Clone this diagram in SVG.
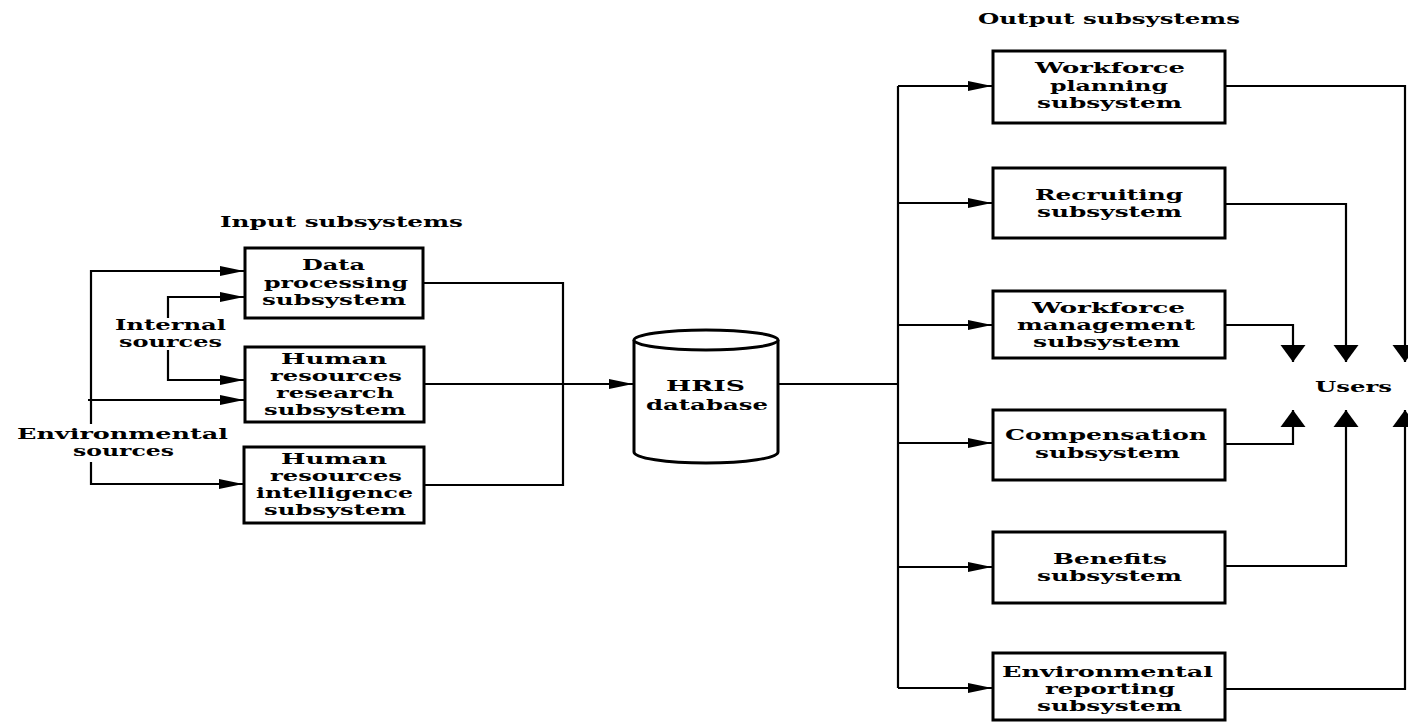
<svg xmlns="http://www.w3.org/2000/svg" width="1408" height="722" viewBox="0 0 1408 722">
<style>
.box{fill:#fff;stroke:#000;stroke-width:3}
.ln{fill:none;stroke:#000;stroke-width:2.2}
text{font-family:"DejaVu Serif","Liberation Serif",serif;font-weight:bold;font-size:14px;fill:#000}
</style>
<defs>
<marker id="ah" markerUnits="userSpaceOnUse" markerWidth="26" markerHeight="12" viewBox="-24 -6 26 12" refX="0" refY="0" orient="auto">
<path d="M0,0 L-24,-5 L-24,5 Z" fill="#000"/>
</marker>
<marker id="big" markerUnits="userSpaceOnUse" markerWidth="20" markerHeight="28" viewBox="-18 -14 20 28" refX="0" refY="0" orient="auto">
<path d="M0,0 L-17,-12.5 L-17,12.5 Z" fill="#000"/>
</marker>
</defs>
<rect width="1408" height="722" fill="#fff"/>
<g id="titles">
<text x="220" y="227" textLength="243" lengthAdjust="spacingAndGlyphs">Input subsystems</text>
<text x="978" y="24" textLength="262" lengthAdjust="spacingAndGlyphs">Output subsystems</text>
</g>
<g id="connectors">
<path class="ln" d="M91,424 V271 H244" marker-end="url(#ah)"/>
<path class="ln" d="M88,400 H244" marker-end="url(#ah)"/>
<path class="ln" d="M91,462 V484 H243" marker-end="url(#ah)"/>
<path class="ln" d="M168,318 V297 H244" marker-end="url(#ah)"/>
<path class="ln" d="M168,350 V380 H244" marker-end="url(#ah)"/>
<path class="ln" d="M423,283 H563 V485 H424"/>
<path class="ln" d="M424,384 H633" marker-end="url(#ah)"/>
<path class="ln" d="M778,384 H898"/>
<path class="ln" d="M898,86 V688"/>
<path class="ln" d="M898,86 H992" marker-end="url(#ah)"/>
<path class="ln" d="M898,203 H992" marker-end="url(#ah)"/>
<path class="ln" d="M898,325 H992" marker-end="url(#ah)"/>
<path class="ln" d="M898,443 H992" marker-end="url(#ah)"/>
<path class="ln" d="M898,567 H992" marker-end="url(#ah)"/>
<path class="ln" d="M898,688 H992" marker-end="url(#ah)"/>
<path class="ln" d="M1225,86 H1405 V362" marker-end="url(#big)"/>
<path class="ln" d="M1225,204 H1346 V362" marker-end="url(#big)"/>
<path class="ln" d="M1225,325 H1293 V362" marker-end="url(#big)"/>
<path class="ln" d="M1225,444 H1293 V410" marker-end="url(#big)"/>
<path class="ln" d="M1225,566 H1346 V410" marker-end="url(#big)"/>
<path class="ln" d="M1225,689 H1405 V410" marker-end="url(#big)"/>
</g>
<g id="internal-sources">
<text x="115" y="330" textLength="111" lengthAdjust="spacingAndGlyphs">Internal</text>
<text x="119" y="347" textLength="103" lengthAdjust="spacingAndGlyphs">sources</text>
</g>
<g id="environmental-sources">
<text x="17" y="439" textLength="211" lengthAdjust="spacingAndGlyphs">Environmental</text>
<text x="73" y="456" textLength="101" lengthAdjust="spacingAndGlyphs">sources</text>
</g>
<g id="data-processing">
<rect class="box" x="245" y="248" width="178" height="70"/>
<text x="302" y="270" textLength="63" lengthAdjust="spacingAndGlyphs">Data</text>
<text x="264" y="288" textLength="144" lengthAdjust="spacingAndGlyphs">processing</text>
<text x="262" y="305" textLength="144" lengthAdjust="spacingAndGlyphs">subsystem</text>
</g>
<g id="hr-research">
<rect class="box" x="245" y="347" width="179" height="75"/>
<text x="281" y="364" textLength="106" lengthAdjust="spacingAndGlyphs">Human</text>
<text x="270" y="381" textLength="132" lengthAdjust="spacingAndGlyphs">resources</text>
<text x="276" y="398" textLength="118" lengthAdjust="spacingAndGlyphs">research</text>
<text x="264" y="415" textLength="142" lengthAdjust="spacingAndGlyphs">subsystem</text>
</g>
<g id="hr-intelligence">
<rect class="box" x="244" y="447" width="180" height="76"/>
<text x="281" y="464" textLength="106" lengthAdjust="spacingAndGlyphs">Human</text>
<text x="270" y="481" textLength="132" lengthAdjust="spacingAndGlyphs">resources</text>
<text x="256" y="498" textLength="157" lengthAdjust="spacingAndGlyphs">intelligence</text>
<text x="264" y="515" textLength="142" lengthAdjust="spacingAndGlyphs">subsystem</text>
</g>
<g id="hris-database">
<path d="M634,340 V452 A72,11 0 0 0 778,452 V340" fill="#fff" stroke="#000" stroke-width="3"/>
<ellipse cx="706" cy="340" rx="72" ry="10" fill="#fff" stroke="#000" stroke-width="3"/>
<text x="666" y="391" textLength="79" lengthAdjust="spacingAndGlyphs">HRIS</text>
<text x="646" y="410" textLength="122" lengthAdjust="spacingAndGlyphs">database</text>
</g>
<g id="workforce-planning">
<rect class="box" x="993" y="51" width="232" height="72"/>
<text x="1035" y="73" textLength="150" lengthAdjust="spacingAndGlyphs">Workforce</text>
<text x="1050" y="91" textLength="118" lengthAdjust="spacingAndGlyphs">planning</text>
<text x="1037" y="108" textLength="145" lengthAdjust="spacingAndGlyphs">subsystem</text>
</g>
<g id="recruiting">
<rect class="box" x="993" y="168" width="232" height="70"/>
<text x="1035" y="200" textLength="148" lengthAdjust="spacingAndGlyphs">Recruiting</text>
<text x="1037" y="217" textLength="145" lengthAdjust="spacingAndGlyphs">subsystem</text>
</g>
<g id="workforce-management">
<rect class="box" x="993" y="291" width="232" height="67"/>
<text x="1032" y="313" textLength="153" lengthAdjust="spacingAndGlyphs">Workforce</text>
<text x="1017" y="330" textLength="178" lengthAdjust="spacingAndGlyphs">management</text>
<text x="1033" y="347" textLength="147" lengthAdjust="spacingAndGlyphs">subsystem</text>
</g>
<g id="compensation">
<rect class="box" x="993" y="410" width="232" height="70"/>
<text x="1005" y="440" textLength="202" lengthAdjust="spacingAndGlyphs">Compensation</text>
<text x="1035" y="458" textLength="145" lengthAdjust="spacingAndGlyphs">subsystem</text>
</g>
<g id="benefits">
<rect class="box" x="993" y="532" width="232" height="71"/>
<text x="1053" y="564" textLength="114" lengthAdjust="spacingAndGlyphs">Benefits</text>
<text x="1037" y="581" textLength="145" lengthAdjust="spacingAndGlyphs">subsystem</text>
</g>
<g id="environmental-reporting">
<rect class="box" x="993" y="653" width="232" height="67"/>
<text x="1002" y="677" textLength="211" lengthAdjust="spacingAndGlyphs">Environmental</text>
<text x="1045" y="694" textLength="130" lengthAdjust="spacingAndGlyphs">reporting</text>
<text x="1037" y="711" textLength="145" lengthAdjust="spacingAndGlyphs">subsystem</text>
</g>
<g id="users">
<text x="1315" y="392" textLength="77" lengthAdjust="spacingAndGlyphs">Users</text>
</g>
</svg>
